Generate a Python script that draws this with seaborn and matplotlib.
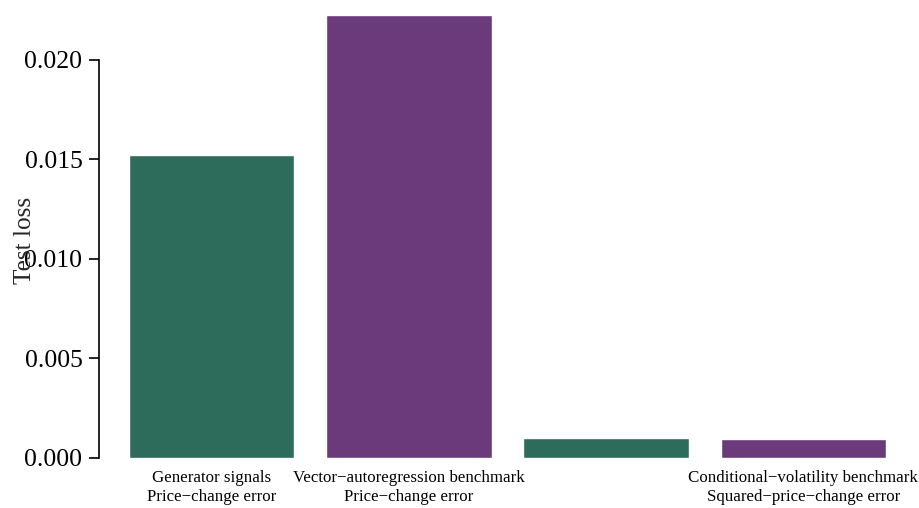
import matplotlib
matplotlib.use("Agg")
import matplotlib.pyplot as plt
import pandas as pd
import seaborn as sns

# Test losses for each model / error measure
models = ["Generator signals", "Vector\u2212autoregression benchmark",
          "Generator signals", "Conditional\u2212volatility benchmark"]
measures = ["Price\u2212change error", "Price\u2212change error",
            "Squared\u2212price\u2212change error", "Squared\u2212price\u2212change error"]
losses = [0.01523, 0.02226, 0.00100, 0.00095]
groups = ["generator", "benchmark", "generator", "benchmark"]
tick_labels = ["Generator signals\nPrice\u2212change error",
               "Vector\u2212autoregression benchmark\nPrice\u2212change error",
               "",
               "Conditional\u2212volatility benchmark\nSquared\u2212price\u2212change error"]
y_ticks = [0.0, 0.005, 0.010, 0.015, 0.020]
y_tick_labels = ["0.000", "0.005", "0.010", "0.015", "0.020"]
palette = {"generator": "#2d6b5a", "benchmark": "#6b3a7a"}

df = pd.DataFrame({
    "case": [f"{m}\n{e}" for m, e in zip(models, measures)],
    "position": range(len(losses)),
    "loss": losses,
    "group": groups,
})

sns.set_theme(style="white")
plt.rcParams["font.family"] = ["Liberation Serif", "DejaVu Serif"]

fig = plt.figure(figsize=(9.2, 5.08), dpi=100)
ax = fig.add_axes([113 / 920, 50 / 508, 789 / 920, 448 / 508])

sns.barplot(data=df, x="position", y="loss", hue="group", palette=palette,
            dodge=False, width=0.84, legend=False, saturation=1, ax=ax)

ax.set_ylim(0, 0.0225)
ax.set_yticks(y_ticks)
ax.set_xticks(range(len(losses)))
sns.despine(ax=ax, bottom=True, offset=10, trim=True)
ax.spines["left"].set_color("black")
ax.spines["left"].set_linewidth(1.2)

ax.set_yticks(y_ticks)
ax.set_yticklabels(y_tick_labels, fontsize=18.5)
ax.set_xticks(range(len(losses)))
ax.set_xticklabels(tick_labels, fontsize=12.2, linespacing=1.2)
ax.set_xlabel("")
ax.set_ylabel("Test loss", fontsize=18.2)
ax.yaxis.set_label_coords(-0.098, 0.485)

ax.tick_params(axis="y", which="major", left=True, length=7, width=1.2,
               color="black", labelcolor="black", pad=5)
ax.tick_params(axis="x", bottom=False, labelcolor="black", pad=3)

fig.savefig("out.png", dpi=100)
